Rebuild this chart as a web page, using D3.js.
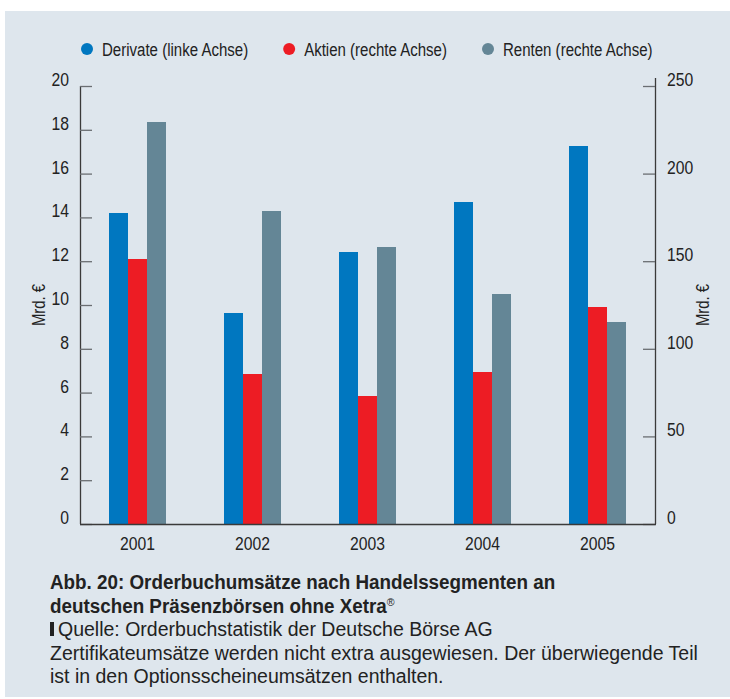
<!DOCTYPE html>
<html lang="de">
<head>
<meta charset="utf-8">
<script src="https://cdn.jsdelivr.net/npm/d3@7"></script>
<style>
  html, body { margin: 0; padding: 0; background: #ffffff; }
  svg { display: block; }
  text { font-family: "Liberation Sans", Arial, Helvetica, sans-serif; }
</style>
</head>
<body>
<svg id="chart" width="730" height="699"></svg>
<script>
// Jahre und Umsätze (Mrd. €)
const years = ["2001", "2002", "2003", "2004", "2005"];
const derivate = [14.2, 9.65, 12.4, 14.7, 17.25];   // linke Achse
const aktien = [151.5, 85.8, 72.8, 87.0, 124.0];    // rechte Achse
const renten = [229.5, 178.8, 158.3, 131.4, 115.5]; // rechte Achse

const leftTicks = [0, 2, 4, 6, 8, 10, 12, 14, 16, 18, 20];
const rightTicks = [0, 50, 100, 150, 200, 250];

const seriesNames = ["Derivate (linke Achse)", "Aktien (rechte Achse)", "Renten (rechte Achse)"];
const seriesKeys = ["derivate", "aktien", "renten"];
const colors = { derivate: "#0077c0", aktien: "#ed1c24", renten: "#648696" };

const captionTitle = ["Abb. 20: Orderbuchumsätze nach Handelssegmenten an",
                      "deutschen Präsenzbörsen ohne Xetra"];
const captionSource = "Quelle: Orderbuchstatistik der Deutsche Börse AG";
const captionNote = ["Zertifikateumsätze werden nicht extra ausgewiesen. Der überwiegende Teil",
                     "ist in den Optionsscheineumsätzen enthalten."];

const svg = d3.select("#chart");
const textColor = "#222";
const condense = 0.85;   // schmaler Schriftschnitt für die Diagrammbeschriftung

// Text mit horizontal gestauchter Schrift
function narrowText(parent, x, y, str, opts = {}) {
  const k = opts.k || condense;
  const rot = opts.rotate ? ` rotate(${opts.rotate})` : "";
  const g = parent.append("g").attr("transform", `translate(${x},${y})${rot} scale(${k},1)`);
  const t = g.append("text")
    .attr("text-anchor", opts.anchor || "start")
    .attr("font-size", opts.size || 18.5)
    .attr("font-weight", opts.weight || "normal")
    .attr("fill", textColor)
    .text(str);
  return { g, t, width: t.node().getComputedTextLength() * k };
}

// Hintergrundfläche
svg.append("rect")
  .attr("x", 5).attr("y", 11)
  .attr("width", 725).attr("height", 686)
  .attr("fill", "#dee6ed");

const plot = { left: 80, right: 655, top: 86, bottom: 524 };

const x = d3.scaleBand().domain(years).range([plot.left, plot.right]).padding(0);
const groupWidth = 57;
const xInner = d3.scaleBand().domain(seriesKeys)
  .range([(x.bandwidth() - groupWidth) / 2, (x.bandwidth() + groupWidth) / 2]);

const yLeft = d3.scaleLinear().domain([0, 20]).range([plot.bottom, plot.top]);
const yRight = d3.scaleLinear().domain([0, 250]).range([plot.bottom, plot.top]);

const rows = years.map((yr, i) => ({
  year: yr,
  values: [
    { key: "derivate", value: derivate[i], scale: yLeft },
    { key: "aktien", value: aktien[i], scale: yRight },
    { key: "renten", value: renten[i], scale: yRight }
  ]
}));

// Balken
const groups = svg.append("g").selectAll("g")
  .data(rows).join("g")
  .attr("transform", d => `translate(${x(d.year)},0)`);

groups.selectAll("rect")
  .data(d => d.values).join("rect")
  .attr("x", d => xInner(d.key))
  .attr("width", xInner.bandwidth())
  .attr("y", d => d.scale(d.value))
  .attr("height", d => plot.bottom - d.scale(d.value))
  .attr("fill", d => colors[d.key])
  .attr("shape-rendering", "crispEdges");

// Linke Achse
const leftAxis = d3.axisRight(yLeft).tickValues(leftTicks).tickSize(12).tickFormat("");
const gL = svg.append("g").attr("transform", `translate(${plot.left},0)`).call(leftAxis);
gL.select(".domain").attr("stroke", "#3a3a3a").attr("stroke-width", 1.3).attr("d", `M0.5,${plot.top}V${plot.bottom}`);
gL.selectAll(".tick line").attr("stroke", "#6a6e72").attr("stroke-width", 1.3);

const leftLabels = svg.append("g");
leftTicks.forEach(v => narrowText(leftLabels, 69, yLeft(v), String(v), { anchor: "end" }));

// Rechte Achse
const rightAxis = d3.axisLeft(yRight).tickValues(rightTicks).tickSize(12).tickFormat("");
const gR = svg.append("g").attr("transform", `translate(${plot.right},0)`).call(rightAxis);
gR.select(".domain").attr("stroke", "#3a3a3a").attr("stroke-width", 1.3).attr("d", `M0.5,${plot.top - 8}V${plot.bottom}`);
gR.selectAll(".tick line").attr("stroke", "#6a6e72").attr("stroke-width", 1.3);

const rightLabels = svg.append("g");
rightTicks.forEach(v => narrowText(rightLabels, 667, yRight(v), String(v)));

// Grundlinie
svg.append("line")
  .attr("x1", plot.left).attr("x2", plot.right + 1)
  .attr("y1", plot.bottom + 0.5).attr("y2", plot.bottom + 0.5)
  .attr("stroke", "#3a3a3a").attr("stroke-width", 1.3);

// Jahreszahlen
const yearLabels = svg.append("g");
years.forEach(yr => narrowText(yearLabels, x(yr) + x.bandwidth() / 2, 550, yr, { anchor: "middle" }));

// Achsentitel
const midY = (plot.top + plot.bottom) / 2;
[45, 709].forEach(cx => {
  narrowText(svg, cx, midY, "Mrd. €", { anchor: "middle", rotate: -90, size: 17.5 });
});

// Legende
const legend = svg.append("g");
let lx = 81;
seriesKeys.forEach((k, i) => {
  legend.append("circle").attr("cx", lx + 6).attr("cy", 49).attr("r", 6).attr("fill", colors[k]);
  const item = narrowText(legend, lx + 21, 56, seriesNames[i], { size: 18, k: 0.835 });
  lx += 21 + item.width + 35;
});

// Bildunterschrift
const cap = svg.append("g").attr("fill", textColor).attr("font-size", 19.5);
const lineH = 23.5;
const base0 = 589;
narrowText(cap, 50, base0, captionTitle[0], { size: 19.5, weight: "bold", k: 0.966 });
const t2 = narrowText(cap, 50, base0 + lineH, captionTitle[1], { size: 19.5, weight: "bold", k: 0.966 }).t;
t2.append("tspan").attr("font-size", 11).attr("dy", -7).attr("font-weight", "normal").text("®");
cap.append("rect").attr("x", 50).attr("y", base0 + 2 * lineH - 14).attr("width", 4).attr("height", 14).attr("fill", textColor);
cap.append("text").attr("x", 58).attr("y", base0 + 2 * lineH).text(captionSource);
cap.append("text").attr("x", 50).attr("y", base0 + 3 * lineH).text(captionNote[0]);
cap.append("text").attr("x", 50).attr("y", base0 + 4 * lineH).text(captionNote[1]);
</script>
</body>
</html>
